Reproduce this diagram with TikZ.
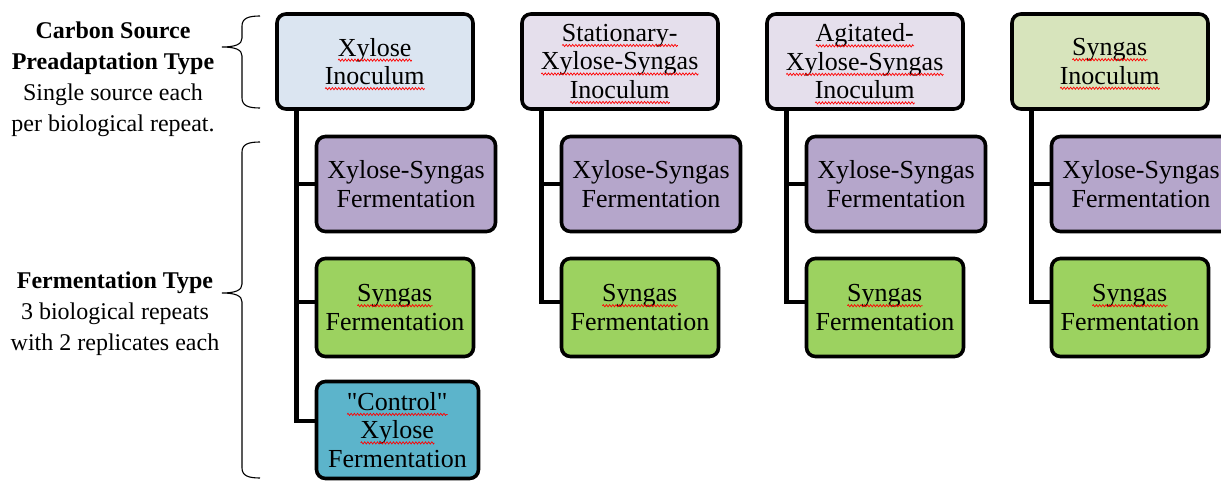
\documentclass[tikz,border=0pt]{standalone}
\usepackage{fontspec}
\setmainfont{Liberation Serif}
% family without TeX ligature mapping, for straight double quotes
\newfontfamily\straightserif{Liberation Serif}
\usetikzlibrary{calc,decorations.pathmorphing}

\definecolor{inocblue}{HTML}{DBE5F1}
\definecolor{inoclav}{HTML}{E5DFEC}
\definecolor{inocgreen}{HTML}{D7E4BC}
\definecolor{mixfill}{HTML}{B5A6CB}
\definecolor{syngasfill}{HTML}{9CD260}
\definecolor{controlfill}{HTML}{5CB4CB}

% red wavy underline (spell-check style)
\newlength\spellw
\newcommand\spellwave[1]{\settowidth\spellw{#1}\leavevmode\rlap{#1}%
  \raisebox{-4pt}[0pt][0pt]{\tikz[x=1pt,y=1pt,baseline=0pt,sharp corners]{%
    \draw[red,line width=0.7pt,decorate,
      decoration={zigzag,segment length=3.2pt,amplitude=1.1pt}] (0,0) -- (\spellw,0);}}}

\begin{document}
\begin{tikzpicture}[x=1pt,y=-1pt,
  box/.style={draw=black, line width=3.6pt, rounded corners=9pt, align=center,
    inner sep=0pt, font=\fontsize{26}{28.5}\selectfont},
  inoc/.style={box, minimum width=196pt, minimum height=95pt},
  mixferm/.style={box, fill=mixfill, minimum width=179pt, minimum height=95pt},
  synferm/.style={box, fill=syngasfill, minimum width=157pt, minimum height=98pt},
  ctlferm/.style={box, fill=controlfill, minimum width=162pt, minimum height=97pt},
  link/.style={line width=4.8pt},
  brace/.style={line width=1.1pt},
  sidetext/.style={align=center, inner sep=0pt, font=\fontsize{24}{31}\selectfont}]

\clip (0,0) rectangle (1221,481);

% inoculum row
\node[inoc, fill=inocblue]  (inoc1) at (375,61.5)  {\spellwave{Xylose}\\\spellwave{Inoculum}};
\node[inoc, fill=inoclav]   (inoc2) at (620,61.5)  {\spellwave{Stationary-}\\\spellwave{Xylose-Syngas}\\\spellwave{Inoculum}};
\node[inoc, fill=inoclav]   (inoc3) at (865,61.5)  {\spellwave{Agitated-}\\\spellwave{Xylose-Syngas}\\\spellwave{Inoculum}};
\node[inoc, fill=inocgreen] (inoc4) at (1110,61.5) {\spellwave{Syngas}\\\spellwave{Inoculum}};

% fermentation boxes
\node[mixferm] (mix1) at (406,184)  {Xylose-Syngas\\Fermentation};
\node[mixferm] (mix2) at (651,184)  {Xylose-Syngas\\Fermentation};
\node[mixferm] (mix3) at (896,184)  {Xylose-Syngas\\Fermentation};
\node[mixferm] (mix4) at (1141,184) {Xylose-Syngas\\Fermentation};

\node[synferm] (syn1) at (395,307.5)  {\spellwave{Syngas}\\Fermentation};
\node[synferm] (syn2) at (640,307.5)  {\spellwave{Syngas}\\Fermentation};
\node[synferm] (syn3) at (885,307.5)  {\spellwave{Syngas}\\Fermentation};
\node[synferm] (syn4) at (1130,307.5) {\spellwave{Syngas}\\Fermentation};

\node[ctlferm] (ctl1) at (397.5,430) {\spellwave{{\straightserif "Control"}}\\\spellwave{Xylose}\\Fermentation};

% tree connectors
\foreach \i in {1,...,4} {
  \coordinate (v\i) at ($(inoc\i.south west)+(21,0)$);
  \draw[link] (v\i) |- (mix\i.west);
  \draw[link] (v\i) |- ($(syn\i.west)+(0,-5.5)$);
}
\draw[link] (v1) |- ($(ctl1.west)+(0,-9)$);

% side annotations (base anchor sits on the last line)
\node[sidetext, anchor=base] (carbonlab) at (113,132)
  {\textbf{Carbon Source}\\\textbf{Preadaptation Type}\\Single source each\\per biological repeat.};
\node[sidetext, anchor=base] (fermlab) at (115,350)
  {\textbf{Fermentation Type}\\3 biological repeats\\with 2 replicates each};

\draw[brace] (260,16) .. controls (249,16) and (242,18) .. (242,26) -- (242,38)
  .. controls (242,44) and (236,47) .. (222,47)
  .. controls (236,47) and (242,50) .. (242,56) -- (242,98)
  .. controls (242,106) and (249,108) .. (260,108);
\draw[brace] (260,142) .. controls (249,142) and (242,144) .. (242,152) -- (242,284)
  .. controls (242,290) and (236,293) .. (222,293)
  .. controls (236,293) and (242,296) .. (242,302) -- (242,468)
  .. controls (242,476) and (249,478) .. (260,478);
\end{tikzpicture}
\end{document}
